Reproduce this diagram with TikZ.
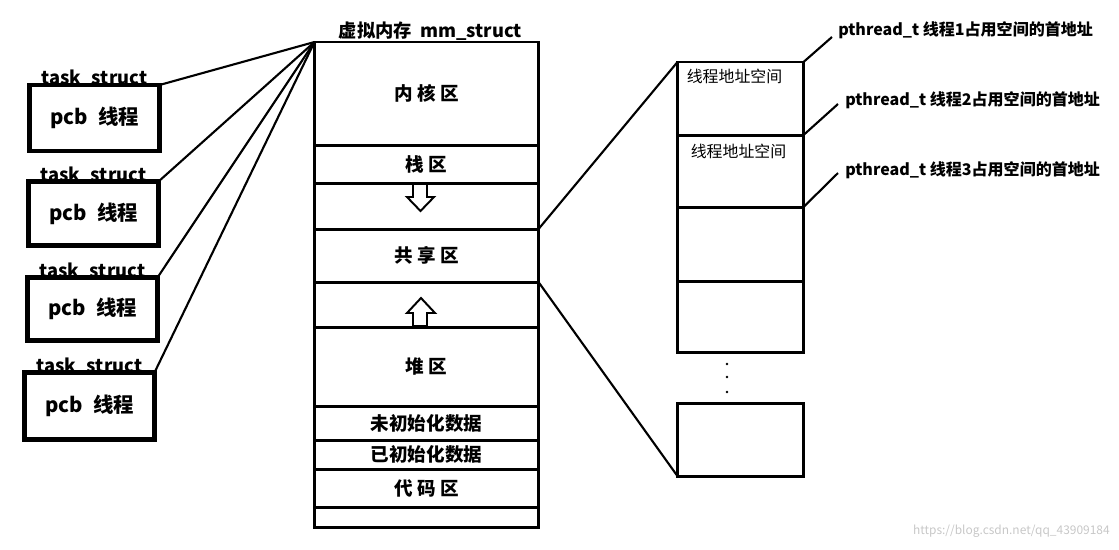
\documentclass[tikz,border=0pt]{standalone}
\usepackage{fontspec}
\setmainfont{Noto Sans CJK SC}
\usepackage{tikz}
\usetikzlibrary{positioning}
\tikzset{>=latex}
\tikzset{link-line/.style={line width=1.5pt}}
\tikzset{pcb-box/.style={draw, line width=3.5pt, inner sep=0, outer sep=0, minimum width=3.25cm, font=\fontsize{14.5}{17}\selectfont\bfseries}}
\tikzset{task-label/.style={inner sep=0, font=\fontsize{13}{15}\selectfont\bfseries}}
\tikzset{mem-seg/.style={draw, line width=2.1pt, inner sep=0, outer sep=0, minimum width=5.6cm, font=\fontsize{13.2}{15}\selectfont\bfseries}}
\tikzset{thr-seg/.style={draw, line width=2.1pt, inner sep=0, outer sep=0, minimum width=3.15cm}}
\tikzset{thr-text/.style={inner sep=0, font=\fontsize{11.3}{13}\selectfont}}
\tikzset{ptr-label/.style={inner sep=0, anchor=west, font=\fontsize{11.4}{13}\selectfont\bfseries}}

\begin{document}
\begin{tikzpicture}[x=0.025cm, y=-0.025cm]
            \useasboundingbox (0,0) rectangle (1119,549);

            \node[pcb-box, minimum height=1.65cm] (pcb1) at (94.5,118) {pcb\enspace 线程};
            \node[pcb-box, minimum height=1.6cm] (pcb2) at (93.5,213.5) {pcb\enspace 线程};
            \node[pcb-box, minimum height=1.575cm] (pcb3) at (92.5,309) {pcb\enspace 线程};
            \node[pcb-box, minimum height=1.675cm] (pcb4) at (89.5,406) {pcb\enspace 线程};

            \node[task-label, above=-2pt of pcb1] (task1) {task\_struct};
            \node[task-label, above=-2pt of pcb2] (task2) {task\_struct};
            \node[task-label, above=-2pt of pcb3] (task3) {task\_struct};
            \node[task-label, above=-2pt of pcb4] (task4) {task\_struct};

            \node[mem-seg, minimum height=2.575cm, anchor=north] (mem1) at (426.5,42) {内 核 区};
            \node[mem-seg, minimum height=0.95cm, below=0pt of mem1] (mem2) {栈 区};
            \node[mem-seg, minimum height=1.15cm, below=0pt of mem2] (mem3) {};
            \node[mem-seg, minimum height=1.325cm, below=0pt of mem3] (mem4) {共 享 区};
            \node[mem-seg, minimum height=1.125cm, below=0pt of mem4] (mem5) {};
            \node[mem-seg, minimum height=1.975cm, below=0pt of mem5] (mem6) {堆 区};
            \node[mem-seg, minimum height=0.85cm, below=0pt of mem6] (mem7) {未初始化数据};
            \node[mem-seg, minimum height=0.725cm, below=0pt of mem7] (mem8) {已初始化数据};
            \node[mem-seg, minimum height=0.95cm, below=0pt of mem8] (mem9) {代 码 区};
            \node[mem-seg, minimum height=0.5cm, below=0pt of mem9] (mem10) {};

            \node[task-label, above=1pt of mem1, xshift=0.1cm] (memtitle) {虚拟内存~~mm\_struct};

            \draw[line width=1.4pt] (413,184) -- (427,184) -- (427,197) -- (434,197) -- (420.5,211)
                -- (407,197) -- (413,197) -- cycle;
            \draw[line width=1.4pt] (413,326) -- (427,326) -- (427,313) -- (435,313) -- (421,298)
                -- (407,313) -- (413,313) -- cycle;

            \node[thr-seg, minimum height=1.825cm, anchor=north] (thr1) at (740.5,62) {};
            \node[thr-seg, minimum height=1.8cm, below=0pt of thr1] (thr2) {};
            \node[thr-seg, minimum height=1.85cm, below=0pt of thr2] (thr3) {};
            \node[thr-seg, minimum height=1.775cm, below=0pt of thr3] (thr4) {};
            \node[thr-seg, minimum height=1.825cm, below=1.275cm of thr4] (thr5) {};

            \node[thr-text, below=5pt of thr1.north, xshift=-0.15cm] (addr1) {线程地址空间};
            \node[thr-text, below=6pt of thr2.north, xshift=-0.05cm] (addr2) {线程地址空间};

            \foreach \yy in {364,377,392}
                \fill (727,\yy) circle (1pt);

            \node[ptr-label] (ptr1) at (838,30) {pthread\_t 线程1占用空间的首地址};
            \node[ptr-label] (ptr2) at (845,100) {pthread\_t 线程2占用空间的首地址};
            \node[ptr-label] (ptr3) at (845,170) {pthread\_t 线程3占用空间的首地址};
            \coordinate (end1) at (832,37);
            \coordinate (end2) at (838,104);
            \coordinate (end3) at (838,173);

            \draw[link-line] (mem1.north west) -- (pcb1.north east);
            \draw[link-line] (mem1.north west) -- (pcb2.north east);
            \draw[link-line] (mem1.north west) -- (pcb3.north east);
            \draw[link-line] (mem1.north west) -- (pcb4.north east);

            \draw[link-line] (mem4.north east) -- (thr1.north west);
            \draw[link-line] (mem5.north east) -- (thr5.south west);

            \draw[link-line] (thr1.north east) -- (end1);
            \draw[link-line] (thr2.north east) -- (end2);
            \draw[link-line] (thr3.north east) -- (end3);

            \node[inner sep=0, anchor=east, text=black!22, font=\fontsize{8.5}{10}\selectfont] (mark) at (1110,531) {https://blog.csdn.net/qq\_43909184};
        \end{tikzpicture}
\end{document}
